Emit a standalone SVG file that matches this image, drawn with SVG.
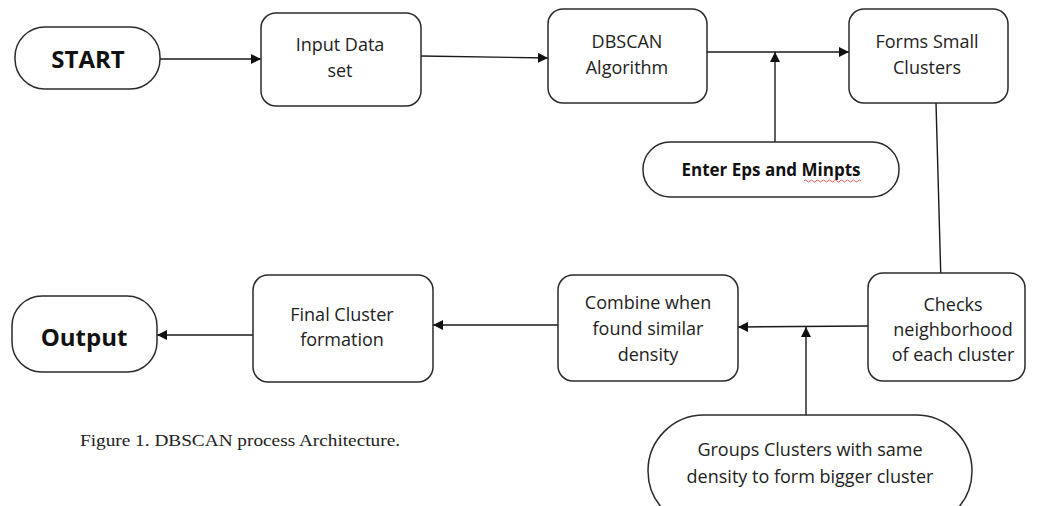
<svg xmlns="http://www.w3.org/2000/svg" width="1038" height="506" viewBox="0 0 1038 506">
<style>
.box{fill:#fff;stroke:#2b2b2b;stroke-width:1.5}
.t{font-family:"Open Sans","Liberation Sans",sans-serif;font-size:18px;fill:#222;text-anchor:middle}
.b{font-family:"Open Sans","Liberation Sans",sans-serif;font-size:24px;font-weight:bold;fill:#111;text-anchor:middle}
.bs{font-family:"Open Sans","Liberation Sans",sans-serif;font-size:17px;font-weight:bold;fill:#111;text-anchor:middle}
.cap{font-family:"Liberation Serif","Times New Roman",serif;font-size:17px;fill:#222}
.c{fill:none;stroke:#1a1a1a;stroke-width:1.4}
</style>
<defs>
<marker id="ah" viewBox="0 0 10 10" refX="10" refY="5" markerWidth="10" markerHeight="10" markerUnits="userSpaceOnUse" orient="auto">
<path d="M0,0 L10,5 L0,10 Z" fill="#111"/>
</marker>
</defs>
<rect width="1038" height="506" fill="#fff"/>
<g id="connectors">
<line class="c" x1="160" y1="59" x2="261" y2="59" marker-end="url(#ah)"/>
<line class="c" x1="421" y1="56" x2="548" y2="58" marker-end="url(#ah)"/>
<line class="c" x1="707" y1="52" x2="849" y2="52" marker-end="url(#ah)"/>
<line class="c" x1="775" y1="143" x2="775" y2="52" marker-end="url(#ah)"/>
<line class="c" x1="936" y1="103" x2="941" y2="283" marker-end="url(#ah)"/>
<line class="c" x1="868" y1="326" x2="738" y2="327" marker-end="url(#ah)"/>
<line class="c" x1="806" y1="415" x2="806" y2="327" marker-end="url(#ah)"/>
<line class="c" x1="558" y1="325" x2="433" y2="325" marker-end="url(#ah)"/>
<line class="c" x1="253" y1="335" x2="157" y2="335" marker-end="url(#ah)"/>
</g>
<g id="start">
<rect class="box" x="15" y="27" width="145" height="62" rx="30"/>
<text class="b" x="88" y="68">START</text>
</g>
<g id="input">
<rect class="box" x="261" y="13" width="160" height="93" rx="15"/>
<text class="t" x="340" y="51">Input Data</text>
<text class="t" x="340" y="77">set</text>
</g>
<g id="dbscan">
<rect class="box" x="548" y="9" width="159" height="94" rx="15"/>
<text class="t" x="627" y="48">DBSCAN</text>
<text class="t" x="627" y="74">Algorithm</text>
</g>
<g id="forms">
<rect class="box" x="849" y="9" width="159" height="94" rx="15"/>
<text class="t" x="927" y="48">Forms Small</text>
<text class="t" x="927" y="74">Clusters</text>
</g>
<g id="eps">
<rect class="box" x="643" y="142" width="256" height="55" rx="27"/>
<text class="bs" x="771" y="176">Enter Eps and Minpts</text>
<path d="M804,181 q1.5,-2 3,0 t3,0 t3,0 t3,0 t3,0 t3,0 t3,0 t3,0 t3,0 t3,0 t3,0 t3,0 t3,0 t3,0 t3,0 t3,0 t3,0 t3,0 t3,0" fill="none" stroke="#e03030" stroke-width="0.8"/>
</g>
<g id="checks">
<rect class="box" x="868" y="273" width="157" height="108" rx="15"/>
<text class="t" x="953" y="311">Checks</text>
<text class="t" x="953" y="336">neighborhood</text>
<text class="t" x="953" y="361">of each cluster</text>
</g>
<g id="combine">
<rect class="box" x="558" y="275" width="180" height="106" rx="15"/>
<text class="t" x="648" y="309">Combine when</text>
<text class="t" x="648" y="335">found similar</text>
<text class="t" x="648" y="361">density</text>
</g>
<g id="groups">
<rect class="box" x="648" y="415" width="324" height="112" rx="56"/>
<text class="t" x="810" y="456">Groups Clusters with same</text>
<text class="t" x="810" y="483">density to form bigger cluster</text>
</g>
<g id="final">
<rect class="box" x="253" y="275" width="180" height="107" rx="15"/>
<text class="t" x="342" y="321">Final Cluster</text>
<text class="t" x="342" y="346">formation</text>
</g>
<g id="output">
<rect class="box" x="12" y="296" width="145" height="76" rx="30"/>
<text class="b" x="84" y="346">Output</text>
</g>
<text class="cap" x="80" y="446" textLength="320" lengthAdjust="spacingAndGlyphs">Figure 1. DBSCAN process Architecture.</text>
</svg>
